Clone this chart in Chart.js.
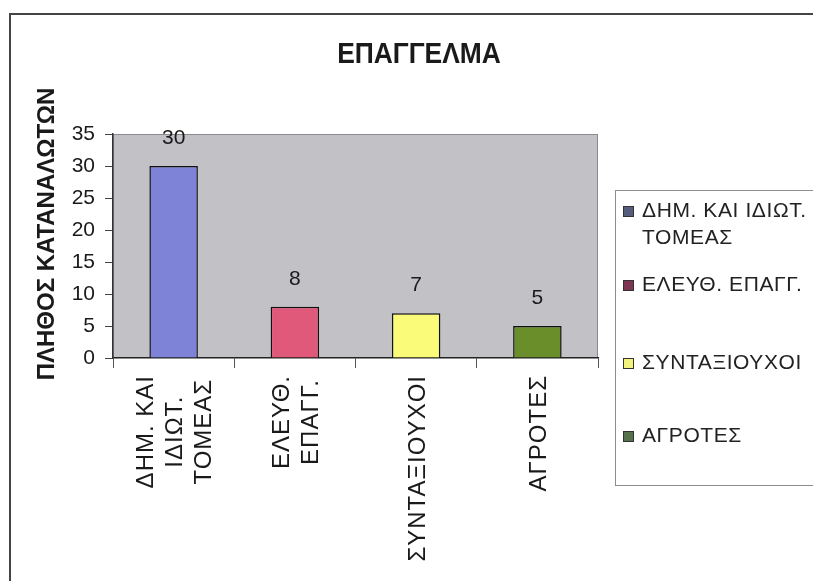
<!DOCTYPE html>
<html>
<head>
<meta charset="utf-8">
<script src="https://cdn.jsdelivr.net/npm/chart.js@4/dist/chart.umd.min.js"></script>
<style>
  html, body { margin: 0; padding: 0; background: #fff; overflow: hidden; }
  #wrap { width: 813px; height: 581px; position: relative; }
</style>
</head>
<body>
<div id="wrap"><canvas id="occupationChart"></canvas></div>
<script>
// --- DATA ---
const categories = [['ΔΗΜ. ΚΑΙ', 'ΙΔΙΩΤ.', 'ΤΟΜΕΑΣ'], ['ΕΛΕΥΘ.', 'ΕΠΑΓΓ.'], ['ΣΥΝΤΑΞΙΟΥΧΟΙ'], ['ΑΓΡΟΤΕΣ']];
const legendLabels = [['ΔΗΜ. ΚΑΙ ΙΔΙΩΤ.', 'ΤΟΜΕΑΣ'], ['ΕΛΕΥΘ. ΕΠΑΓΓ.'], ['ΣΥΝΤΑΞΙΟΥΧΟΙ'], ['ΑΓΡΟΤΕΣ']];
const consumers = [30, 8, 7, 5];
const yTicks = [0, 5, 10, 15, 20, 25, 30, 35];
const chartTitle = 'ΕΠΑΓΓΕΛΜΑ';
const yTitle = 'ΠΛΗΘΟΣ ΚΑΤΑΝΑΛΩΤΩΝ';

const barColors = ['#7e83d8', '#e0587a', '#fbfb7a', '#6a8f2a'];
const swatchColors = ['#565c7c', '#7c3552', '#f2f27c', '#56724c'];
const textColor = '#1a1a1a';
const sansFont = 'Arial, "Liberation Sans", sans-serif';

// Page frame, grey plot background and plot outline
const backdropPlugin = {
    id: 'backdrop',
    beforeDraw(chart) {
        const { ctx, chartArea: a } = chart;
        ctx.save();
        ctx.fillStyle = '#fff';
        ctx.fillRect(0, 0, chart.width, chart.height);

        ctx.strokeStyle = '#444';
        ctx.lineWidth = 2;
        ctx.beginPath();
        ctx.moveTo(10, chart.height + 2);
        ctx.lineTo(10, 14);
        ctx.lineTo(chart.width + 2, 14);
        ctx.stroke();

        ctx.fillStyle = '#c2c2c6';
        ctx.fillRect(a.left, a.top, a.right - a.left, a.bottom - a.top);
        ctx.strokeStyle = '#8a8a8e';
        ctx.lineWidth = 1;
        ctx.strokeRect(a.left + 0.5, a.top + 0.5, a.right - a.left - 1, a.bottom - a.top - 1);
        ctx.restore();
    }
};

// Value labels above each bar
const valueLabelPlugin = {
    id: 'valueLabels',
    afterDatasetsDraw(chart) {
        const { ctx } = chart;
        const meta = chart.getDatasetMeta(0);
        ctx.save();
        ctx.font = '21px ' + sansFont;
        ctx.fillStyle = textColor;
        ctx.textAlign = 'center';
        ctx.textBaseline = 'middle';
        meta.data.forEach((bar, i) => {
            ctx.fillText(String(consumers[i]), bar.x, bar.y - 28);
        });
        ctx.restore();
    }
};

// Title, rotated axis texts and the side legend
const textPlugin = {
    id: 'chartTexts',
    afterDraw(chart) {
        const { ctx } = chart;
        const xScale = chart.scales.x;
        ctx.save();
        ctx.fillStyle = textColor;

        // main title, squeezed horizontally for a narrow look
        ctx.save();
        ctx.translate(419, 55);
        ctx.scale(0.88, 1);
        ctx.font = 'bold 30px ' + sansFont;
        ctx.textAlign = 'center';
        ctx.textBaseline = 'middle';
        ctx.fillText(chartTitle, 0, 0);
        ctx.restore();

        ctx.textAlign = 'center';
        ctx.textBaseline = 'middle';

        // y axis title
        ctx.save();
        ctx.translate(47, 234);
        ctx.rotate(-Math.PI / 2);
        ctx.font = 'bold 24px ' + sansFont;
        ctx.fillText(yTitle, 0, 0);
        ctx.restore();

        // category labels, read bottom-to-top, lines centred on each other
        ctx.font = '24px ' + sansFont;
        ctx.letterSpacing = '1px';
        categories.forEach((lines, i) => {
            const x = xScale.getPixelForValue(i) + 2;
            const maxW = Math.max(...lines.map(l => ctx.measureText(l).width));
            ctx.save();
            ctx.translate(x, 375);
            ctx.rotate(-Math.PI / 2);
            lines.forEach((line, j) => {
                const off = (j - (lines.length - 1) / 2) * 29;
                ctx.fillText(line, -maxW / 2, off);
            });
            ctx.restore();
        });

        // legend box
        ctx.strokeStyle = '#8c8c8c';
        ctx.lineWidth = 1;
        ctx.strokeRect(615.5, 190.5, 240, 295);

        const rows = [211, 285, 363, 436];
        ctx.font = '21px ' + sansFont;
        ctx.letterSpacing = '0.6px';
        ctx.textAlign = 'left';
        legendLabels.forEach((lines, i) => {
            const y = rows[i];
            ctx.fillStyle = swatchColors[i];
            ctx.fillRect(623, y - 5, 11, 11);
            ctx.strokeStyle = '#333';
            ctx.strokeRect(623.5, y - 4.5, 10, 10);
            ctx.fillStyle = '#222';
            lines.forEach((line, j) => ctx.fillText(line, 642, y + j * 27));
        });
        ctx.letterSpacing = '0px';
        ctx.restore();
    }
};

const chart = new Chart(document.getElementById('occupationChart'), {
    type: 'bar',
    data: {
        labels: categories.map(c => c.join(' ')),
        datasets: [{
            data: consumers,
            backgroundColor: barColors,
            borderColor: '#111',
            borderWidth: 1.5,
            categoryPercentage: 1,
            barPercentage: 0.4
        }]
    },
    options: {
        responsive: true,
        maintainAspectRatio: false,
        animation: false,
        events: [],
        layout: { padding: { top: 134, right: 215, bottom: 213, left: 0 } },
        plugins: { legend: { display: false }, title: { display: false }, tooltip: { enabled: false } },
        scales: {
            x: {
                offset: true,
                grid: { offset: true, drawOnChartArea: false, drawTicks: true, tickLength: 10, color: '#555' },
                border: { display: true, color: '#222', width: 1.5 },
                ticks: { display: false },
                afterFit: s => { s.height = 10; }
            },
            y: {
                min: 0,
                max: 35,
                afterBuildTicks: s => { s.ticks = yTicks.map(v => ({ value: v })); },
                grid: { drawOnChartArea: false, drawTicks: true, tickLength: 8, color: '#444' },
                border: { display: true, color: '#333', width: 1.5 },
                ticks: { color: textColor, padding: 10, font: { size: 21, family: sansFont } },
                afterFit: s => { s.width = 113; }
            }
        }
    },
    plugins: [backdropPlugin, valueLabelPlugin, textPlugin]
});
</script>
</body>
</html>
